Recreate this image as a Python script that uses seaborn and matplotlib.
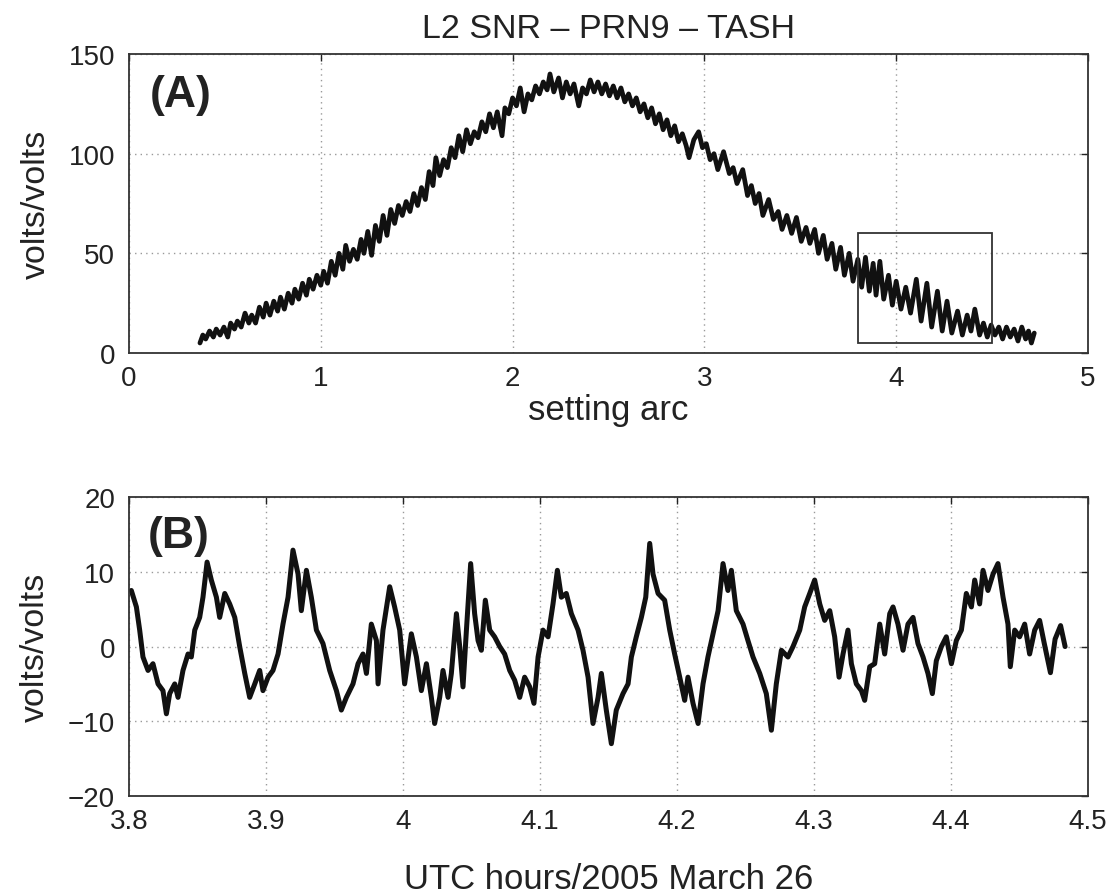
import matplotlib
matplotlib.use("Agg")
import matplotlib.pyplot as plt
import seaborn as sns
import pandas as pd
from matplotlib.patches import Rectangle

sns.set_style('white')
plt.rcParams['font.family'] = ['Liberation Sans', 'DejaVu Sans']
plt.rcParams['text.color'] = '#222222'
plt.rcParams['axes.labelcolor'] = '#222222'

# (A) L2 SNR over the setting arc (peaks / troughs)
arc_x = [0.370, 0.385, 0.400, 0.420, 0.440, 0.455, 0.475, 0.495, 0.515, 0.530,
         0.550, 0.565, 0.585, 0.605, 0.625, 0.640, 0.660, 0.680, 0.700, 0.715,
         0.735, 0.755, 0.775, 0.790, 0.810, 0.830, 0.850, 0.865, 0.885, 0.905,
         0.925, 0.940, 0.960, 0.980, 1.000, 1.015, 1.035, 1.055, 1.075, 1.095,
         1.115, 1.130, 1.150, 1.170, 1.190, 1.210, 1.225, 1.245, 1.265, 1.285,
         1.305, 1.325, 1.345, 1.365, 1.385, 1.405, 1.425, 1.445, 1.465, 1.485,
         1.505, 1.525, 1.545, 1.565, 1.585, 1.600, 1.620, 1.640, 1.660, 1.680,
         1.700, 1.720, 1.740, 1.760, 1.780, 1.800, 1.820, 1.840, 1.860, 1.880,
         1.900, 1.920, 1.945, 1.960, 1.980, 2.000, 2.020, 2.040, 2.060, 2.080,
         2.100, 2.120, 2.140, 2.160, 2.180, 2.195, 2.215, 2.240, 2.260, 2.280,
         2.300, 2.320, 2.345, 2.365, 2.385, 2.405, 2.425, 2.445, 2.465, 2.485,
         2.505, 2.525, 2.545, 2.565, 2.585, 2.605, 2.625, 2.645, 2.665, 2.685,
         2.705, 2.725, 2.745, 2.765, 2.785, 2.805, 2.825, 2.845, 2.865, 2.885,
         2.905, 2.920, 2.945, 2.970, 2.990, 3.010, 3.030, 3.050, 3.070, 3.100,
         3.130, 3.150, 3.170, 3.200, 3.225, 3.245, 3.265, 3.285, 3.305, 3.335,
         3.360, 3.385, 3.405, 3.430, 3.455, 3.480, 3.505, 3.530, 3.550, 3.575,
         3.595, 3.620, 3.640, 3.665, 3.685, 3.710, 3.730, 3.755, 3.775, 3.800,
         3.820, 3.840, 3.860, 3.880, 3.895, 3.915, 3.935, 3.960, 3.980, 4.000,
         4.025, 4.050, 4.075, 4.105, 4.130, 4.160, 4.185, 4.215, 4.240, 4.265,
         4.290, 4.320, 4.345, 4.370, 4.390, 4.410, 4.435, 4.455, 4.475, 4.495,
         4.515, 4.535, 4.555, 4.575, 4.595, 4.615, 4.635, 4.655, 4.675, 4.690,
         4.705, 4.720]
arc_snr = [5, 9, 7, 11, 8, 12, 9, 13, 8, 15,
           12, 16, 13, 20, 15, 19, 15, 23, 18, 25,
           19, 26, 21, 28, 22, 30, 25, 32, 27, 35,
           29, 37, 32, 39, 34, 41, 35, 46, 39, 50,
           42, 54, 46, 52, 47, 57, 50, 61, 49, 64,
           56, 69, 59, 72, 65, 74, 69, 76, 71, 80,
           74, 83, 77, 91, 84, 98, 89, 97, 93, 103,
           98, 109, 101, 112, 105, 111, 108, 116, 111, 120,
           113, 121, 109, 123, 120, 128, 124, 133, 121, 130,
           127, 134, 130, 136, 132, 140, 131, 138, 128, 136,
           130, 135, 124, 133, 130, 137, 131, 136, 130, 135,
           129, 134, 128, 133, 126, 130, 124, 128, 121, 125,
           118, 123, 115, 120, 112, 117, 109, 114, 106, 110,
           104, 98, 107, 111, 103, 105, 97, 100, 92, 101,
           90, 93, 85, 92, 79, 84, 75, 80, 69, 77,
           67, 71, 62, 69, 60, 68, 56, 63, 55, 62,
           50, 59, 47, 55, 42, 53, 39, 50, 36, 47,
           33, 48, 31, 45, 29, 46, 27, 39, 24, 36,
           22, 33, 20, 37, 16, 35, 13, 31, 11, 26,
           10, 21, 9, 19, 11, 22, 9, 15, 8, 14,
           9, 13, 7, 13, 8, 12, 6, 13, 7, 11,
           5, 10]

# (B) detrended SNR, UTC hours on 2005 March 26
utc_x = [3.8017, 3.8054, 3.8078, 3.8102, 3.8139, 3.8175, 3.8212, 3.8248, 3.8273, 3.8297,
         3.8334, 3.8358, 3.8394, 3.8431, 3.8455, 3.8480, 3.8516, 3.8540, 3.8570, 3.8601,
         3.8638, 3.8662, 3.8699, 3.8735, 3.8772, 3.8808, 3.8845, 3.8881, 3.8918, 3.8954,
         3.8978, 3.9015, 3.9051, 3.9088, 3.9124, 3.9161, 3.9197, 3.9234, 3.9258, 3.9295,
         3.9331, 3.9368, 3.9416, 3.9465, 3.9514, 3.9550, 3.9587, 3.9635,
         3.9672, 3.9708, 3.9733, 3.9769, 3.9806, 3.9818, 3.9854, 3.9903, 3.9939, 3.9976,
         4.0012, 4.0061, 4.0098, 4.0134, 4.0171, 4.0207, 4.0231, 4.0268, 4.0292, 4.0329,
         4.0353, 4.0390, 4.0414, 4.0438, 4.0463, 4.0494, 4.0523, 4.0548, 4.0572, 4.0601,
         4.0633, 4.0669, 4.0706, 4.0742, 4.0779, 4.0815, 4.0852, 4.0888, 4.0925, 4.0956,
         4.0986, 4.1022, 4.1059, 4.1095, 4.1127, 4.1156, 4.1192, 4.1229, 4.1278,
         4.1314, 4.1351, 4.1387, 4.1424, 4.1448, 4.1484, 4.1521, 4.1557, 4.1606, 4.1643,
         4.1667, 4.1703, 4.1740, 4.1772, 4.1801, 4.1825, 4.1862, 4.1910, 4.1947, 4.1983,
         4.2020, 4.2056, 4.2080, 4.2117, 4.2154, 4.2190, 4.2226, 4.2263, 4.2300, 4.2336,
         4.2372, 4.2397, 4.2433, 4.2482, 4.2518, 4.2555, 4.2604, 4.2652, 4.2689, 4.2725,
         4.2762, 4.2810, 4.2847, 4.2896, 4.2932,
         4.2969, 4.3005, 4.3042, 4.3078, 4.3115, 4.3151, 4.3183, 4.3212, 4.3248, 4.3273,
         4.3309, 4.3346, 4.3370, 4.3407, 4.3443, 4.3480, 4.3516, 4.3553, 4.3577, 4.3613,
         4.3650, 4.3686, 4.3723, 4.3759, 4.3796, 4.3832, 4.3864, 4.3893, 4.3930, 4.3966,
         4.4003, 4.4039, 4.4076, 4.4112, 4.4149, 4.4173, 4.4209, 4.4234, 4.4270, 4.4307,
         4.4343, 4.4380, 4.4416, 4.4433, 4.4465, 4.4501, 4.4538, 4.4574, 4.4611, 4.4647,
         4.4680, 4.4726, 4.4760, 4.4800, 4.4833]
utc_snr = [7.5, 5.3, 2.2, -1.4, -3.2, -2.3, -5.0, -5.9, -9.0, -6.3,
           -5.0, -6.8, -3.2, -1.0, -1.4, 2.2, 3.9, 6.6, 11.3, 8.9,
           6.6, 3.9, 7.1, 5.7, 3.9, 0.0, -3.6, -6.8, -5.0, -3.2,
           -5.9, -4.1, -3.2, -1.0, 3.0, 6.6, 12.9, 9.7, 4.8, 10.2,
           6.6, 2.2, 0.4, -3.2, -5.9, -8.5, -6.8, -5.0,
           -2.3, -1.0, -3.6, 3.0, 0.8, -5.0, 2.2, 8.0, 5.3, 2.2,
           -5.0, 1.7, -1.4, -5.9, -2.3, -6.8, -10.3, -6.8, -3.2, -6.8,
           -3.6, 4.4, 0.0, -5.4, 2.2, 11.1, 4.4, 0.8, -0.5, 6.2,
           2.2, 1.3, 0.0, -1.0, -3.2, -4.5, -6.8, -4.1, -5.4, -7.6,
           -1.4, 2.2, 1.3, 5.7, 10.2, 6.6, 7.1, 4.4, 2.2,
           -0.5, -4.1, -10.3, -6.8, -3.6, -8.5, -13.0, -8.5, -6.3, -5.0,
           -1.4, 1.3, 3.9, 6.6, 13.8, 9.7, 7.1, 6.2, 2.2, -1.0,
           -4.1, -7.2, -4.1, -7.6, -10.3, -5.0, -1.4, 1.7, 4.8, 11.1,
           7.5, 10.2, 4.8, 3.0, 0.8, -1.4, -3.6, -6.3, -11.2, -5.0,
           -0.5, -1.4, 0.0, 2.2, 5.3,
           7.1, 8.9, 5.7, 3.5, 4.8, 1.3, -4.1, -1.0, 2.2, -2.3,
           -5.0, -5.9, -7.2, -2.7, -2.3, 3.0, -1.0, 4.4, 5.3, 3.0,
           -0.5, 3.0, 3.9, 0.4, -1.4, -3.6, -6.3, -1.9, 0.0, 1.3,
           -2.3, 0.8, 2.2, 7.1, 5.3, 8.9, 5.7, 10.2, 7.5, 9.7,
           11.1, 6.6, 3.0, -2.7, 2.2, 1.3, 3.0, -1.0, 2.2, 3.5,
           0.5, -3.5, 1.0, 2.8, 0.0]

# zoom box drawn in (A)
box_x = [3.8, 4.5]
box_y = [5, 60]

b_ticks = [3.8, 3.9, 4.0, 4.1, 4.2, 4.3, 4.4, 4.5]
b_tick_labels = ['3.8', '3.9', '4', '4.1', '4.2', '4.3', '4.4', '4.5']

df_a = pd.DataFrame({'arc': arc_x, 'snr': arc_snr})
df_b = pd.DataFrame({'utc': utc_x, 'snr': utc_snr})

fig = plt.figure(figsize=(11.12, 8.95), dpi=100)
ax1 = fig.add_axes([0.116, 0.6045, 0.8624, 0.334])
ax2 = fig.add_axes([0.116, 0.1095, 0.8624, 0.334])

sns.lineplot(data=df_a, x='arc', y='snr', ax=ax1, color='#111111',
             linewidth=3.4, estimator=None, sort=False)
sns.lineplot(data=df_b, x='utc', y='snr', ax=ax2, color='#111111',
             linewidth=3.6, estimator=None, sort=False)

ax1.add_patch(Rectangle((box_x[0], box_y[0]), box_x[1] - box_x[0], box_y[1] - box_y[0],
                        fill=False, edgecolor='#333333', linewidth=1.3, zorder=3))

for ax in (ax1, ax2):
    ax.grid(True, linestyle=(0, (1, 3)), color='#999999', linewidth=1.0)
    ax.tick_params(direction='in', length=5, top=True, right=True,
                   labelsize=20, colors='#222222', width=1)
    ax.tick_params(axis='x', pad=9)
    ax.tick_params(axis='y', pad=10)
    for sp in ax.spines.values():
        sp.set_color('#333333')
        sp.set_linewidth(1.3)
    ax.set_ylabel('volts/volts', fontsize=24.5, labelpad=12)

ax1.set_xlim(0, 5)
ax1.set_ylim(0, 150)
ax1.set_xticks([0, 1, 2, 3, 4, 5])
ax1.set_yticks([0, 50, 100, 150])
ax1.set_xlabel('setting arc', fontsize=25, labelpad=1)
ax1.set_title('L2 SNR – PRN9 – TASH', fontsize=24.5, pad=12)
ax1.text(0.022, 0.865, '(A)', transform=ax1.transAxes, fontsize=32,
         fontweight='bold', va='center', ha='left')

ax2.set_xlim(3.8, 4.5)
ax2.set_ylim(-20, 20)
ax2.set_xticks(b_ticks)
ax2.set_xticklabels(b_tick_labels)
ax2.set_yticks([-20, -10, 0, 10, 20])
ax2.set_xlabel('UTC hours/2005 March 26', fontsize=25, labelpad=20)
ax2.text(0.02, 0.87, '(B)', transform=ax2.transAxes, fontsize=32,
         fontweight='bold', va='center', ha='left')

fig.align_ylabels([ax1, ax2])
plt.savefig('out.png', dpi=100)
plt.close()
